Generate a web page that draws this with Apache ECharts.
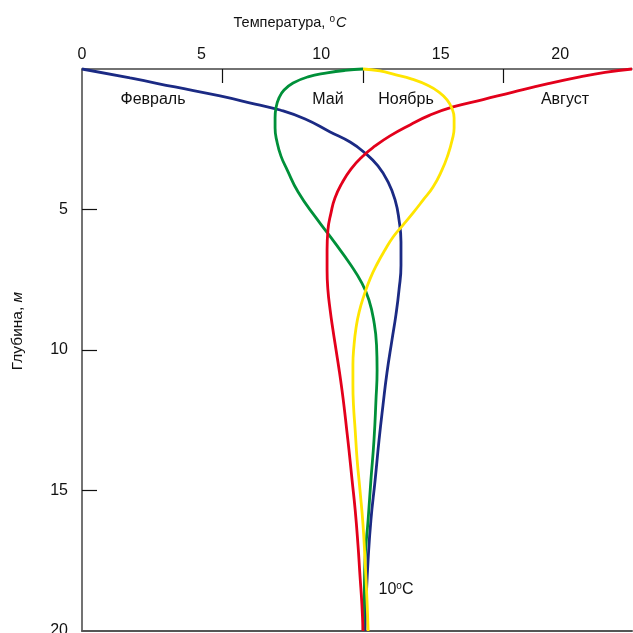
<!DOCTYPE html>
<html lang="ru">
<head>
<meta charset="UTF-8">
<title>Температура воды по глубине</title>
<script src="https://cdn.jsdelivr.net/npm/echarts@6.0.0/dist/echarts.min.js"></script>
<style>
  html, body { margin: 0; padding: 0; background: #fff; }
  #main { width: 633px; height: 633px; }
</style>
</head>
<body>
<div id="main"></div>
<script>
var FONT = '"Liberation Sans", Arial, sans-serif';

// подписи и риски осей
var tempLabels = [0, 5, 10, 15, 20];
var tempTicks = [5, 10, 15];
var depthLabels = [5, 10, 15, 20];
var depthTicks = [5, 10, 15];

// Февраль
var febTemp  = [0, 1.71, 3.31, 4.91, 6.16, 7.05, 7.94, 8.83, 9.54, 10.07, 10.53, 10.89, 11.14, 11.28, 11.35, 11.35, 11.28, 11.17, 11.03, 10.85, 10.71, 10.57, 10.43, 10.28, 10.18, 10.11, 10.07];
var febDepth = [0, 0.32, 0.64, 0.96, 1.25, 1.46, 1.78, 2.24, 2.60, 2.99, 3.45, 4.02, 4.66, 5.37, 6.16, 6.98, 7.86, 8.75, 9.64, 10.82, 11.96, 13.20, 14.63, 16.05, 17.47, 18.90, 20.0];
// Май
var mayTemp  = [10.00, 9.36, 8.72, 8.04, 7.51, 7.19, 7.01, 6.90, 6.87, 6.87, 6.94, 7.08, 7.30, 7.69, 8.33, 9.00, 9.54, 9.96, 10.21, 10.39, 10.48, 10.50, 10.46, 10.39, 10.28, 10.18, 10.07, 10.04, 10.00];
var mayDepth = [0, 0.05, 0.14, 0.28, 0.50, 0.75, 1.03, 1.39, 1.74, 2.10, 2.60, 3.10, 3.59, 4.38, 5.30, 6.19, 6.94, 7.62, 8.22, 9.00, 9.82, 10.71, 11.78, 13.20, 14.63, 16.05, 17.47, 18.90, 20.0];
// Август
var augTemp  = [19.57, 18.61, 17.72, 16.55, 15.34, 14.27, 13.20, 12.38, 11.67, 10.96, 10.43, 9.96, 9.57, 9.25, 9.00, 8.86, 8.75, 8.72, 8.72, 8.75, 8.83, 8.93, 9.04, 9.15, 9.25, 9.34, 9.42, 9.50, 9.61, 9.72, 9.82, 9.89, 9.96, 10.00];
var augDepth = [0, 0.12, 0.28, 0.53, 0.82, 1.09, 1.35, 1.64, 1.99, 2.38, 2.74, 3.13, 3.56, 4.06, 4.59, 5.12, 5.73, 6.44, 7.15, 7.86, 8.58, 9.29, 10.00, 10.71, 11.42, 12.14, 12.85, 13.56, 14.63, 15.69, 16.94, 18.01, 19.07, 20.0];
// Ноябрь
var novTemp  = [10.00, 10.60, 11.14, 11.74, 12.28, 12.70, 12.99, 13.17, 13.24, 13.24, 13.17, 13.02, 12.81, 12.49, 12.14, 11.78, 11.39, 11.07, 10.78, 10.50, 10.25, 10.04, 9.86, 9.75, 9.68, 9.64, 9.64, 9.66, 9.72, 9.79, 9.89, 10.00, 10.07, 10.14, 10.18];
var novDepth = [0, 0.07, 0.20, 0.36, 0.57, 0.82, 1.10, 1.42, 1.74, 2.10, 2.53, 3.06, 3.59, 4.20, 4.66, 5.12, 5.59, 5.98, 6.44, 6.94, 7.47, 8.04, 8.65, 9.22, 9.82, 10.53, 11.25, 11.96, 12.85, 13.91, 14.98, 16.23, 17.47, 18.90, 20.0];

function zip(t, d) {
    return t.map(function (v, i) { return [v, d[i]]; });
}

function profile(name, color, t, d) {
    return {
        name: name,
        type: 'line',
        data: zip(t, d),
        smooth: 0.5,
        symbol: 'none',
        clip: false,
        lineStyle: { color: color, width: 2.8 }
    };
}

function label(text, x, y) {
    return {
        type: 'text', x: x, y: y,
        style: { text: text, fontFamily: FONT, fontSize: 16, fill: '#111', align: 'center', verticalAlign: 'middle' }
    };
}

var chart = echarts.init(document.getElementById('main'));

chart.setOption({
    animation: false,
    grid: { left: 82, right: 1, top: 69, bottom: 2, outerBoundsMode: 'none', containLabel: false },
    xAxis: [
        {   // шкала данных (риски)
            type: 'value', position: 'top', min: 0, max: 19.57,
            axisLine: { show: true, lineStyle: { color: '#444', width: 1.5 } },
            axisTick: { show: true, inside: true, length: 14, customValues: tempTicks, lineStyle: { color: '#111', width: 1.2 } },
            axisLabel: { show: false },
            splitLine: { show: false }
        },
        {   // подписи шкалы
            type: 'value', position: 'top', min: 0, max: 23.0,
            axisLine: { show: false },
            axisTick: { show: false },
            axisLabel: { show: true, margin: 6, customValues: tempLabels, fontFamily: FONT, fontSize: 16, color: '#111' },
            splitLine: { show: false }
        },
        {   // нижняя линия
            type: 'value', position: 'bottom', min: 0, max: 1,
            axisLine: { show: true, lineStyle: { color: '#555', width: 2 } },
            axisTick: { show: false },
            axisLabel: { show: false },
            splitLine: { show: false }
        }
    ],
    yAxis: {
        type: 'value', inverse: true, min: 0, max: 20,
        axisLine: { show: true, lineStyle: { color: '#444', width: 1.5 } },
        axisTick: { show: true, inside: true, length: 15, customValues: depthTicks, lineStyle: { color: '#111', width: 1.2 } },
        axisLabel: { show: true, margin: 14, customValues: depthLabels, fontFamily: FONT, fontSize: 16, color: '#111' },
        splitLine: { show: false }
    },
    series: [
        profile('Февраль', '#1b2a84', febTemp, febDepth),
        profile('Май', '#009039', mayTemp, mayDepth),
        profile('Август', '#e3001b', augTemp, augDepth),
        profile('Ноябрь', '#ffe500', novTemp, novDepth)
    ],
    graphic: [
        {
            type: 'text', x: 290, y: 23,
            style: {
                text: '{n|Температура, }{s|o}{i|C}',
                align: 'center', verticalAlign: 'middle', fill: '#111',
                rich: {
                    n: { fontFamily: FONT, fontSize: 14.5 },
                    s: { fontFamily: FONT, fontSize: 10, padding: [0, 1, 8, 0] },
                    i: { fontFamily: FONT, fontSize: 14.5, fontStyle: 'italic' }
                }
            }
        },
        {
            type: 'text', x: 18, y: 331, rotation: Math.PI / 2,
            style: {
                text: '{n|Глубина, }{i|м}',
                align: 'center', verticalAlign: 'middle', fill: '#111',
                rich: {
                    n: { fontFamily: FONT, fontSize: 15.5 },
                    i: { fontFamily: FONT, fontSize: 15.5, fontStyle: 'italic' }
                }
            }
        },
        label('Февраль', 153, 100),
        label('Май', 328, 100),
        label('Ноябрь', 406, 100),
        label('Август', 565, 100),
        {
            type: 'text', x: 396, y: 590,
            style: {
                text: '{n|10}{s|o}{n|C}',
                align: 'center', verticalAlign: 'middle', fill: '#111',
                rich: {
                    n: { fontFamily: FONT, fontSize: 16 },
                    s: { fontFamily: FONT, fontSize: 10, padding: [0, 0, 8, 0] }
                }
            }
        }
    ]
});
</script>
</body>
</html>
